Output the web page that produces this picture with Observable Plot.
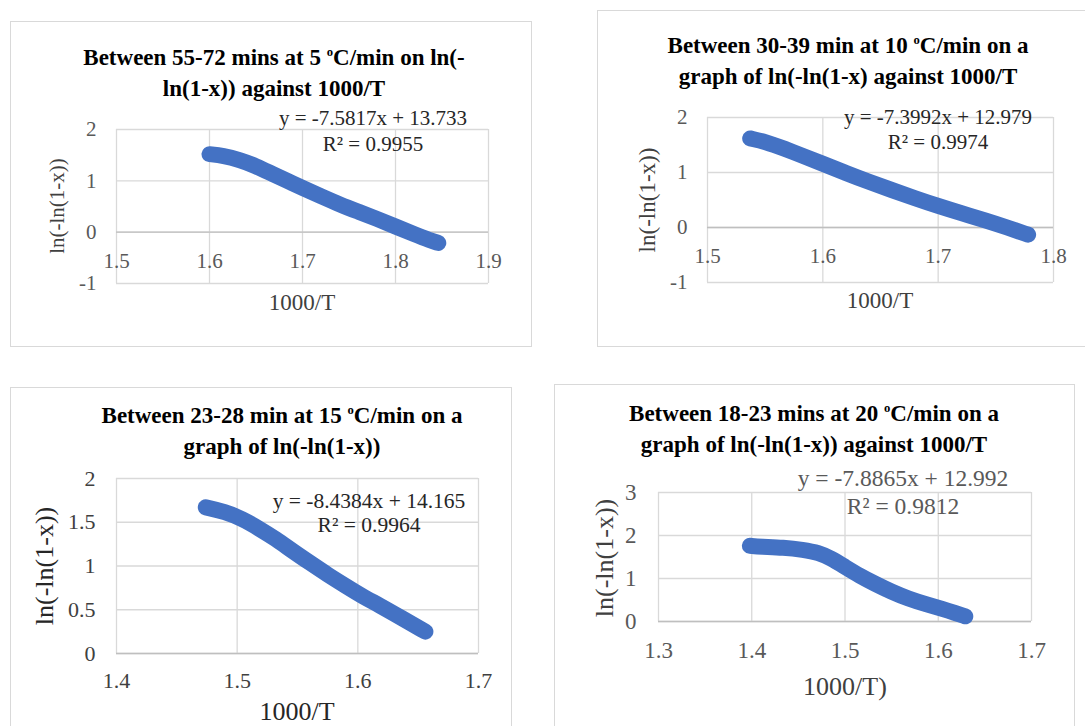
<!DOCTYPE html>
<html>
<head>
<meta charset="utf-8">
<script src="https://cdn.jsdelivr.net/npm/d3@7"></script>
<script src="https://cdn.jsdelivr.net/npm/@observablehq/plot@0.6"></script>
<style>
  body { margin: 0; background: #fff; overflow: hidden; }
  #page { position: relative; width: 1085px; height: 726px; overflow: hidden;
          font-family: "Liberation Serif", "Times New Roman", serif; background: #fff; }
  .box { position: absolute; border: 1px solid #d9d9d9; box-sizing: border-box; }
  .txt { position: absolute; white-space: nowrap; line-height: 1; transform: translate(-50%, -50%); }
  .ytitle { transform: translate(-50%, -50%) rotate(-90deg); }
  .title { position: absolute; white-space: nowrap; font-weight: bold; color: #000;
           text-align: center; line-height: 27px; transform: translateX(-50%); }
  .title sup { font-size: 0.55em; vertical-align: 0; position: relative; top: -0.7em; }
  .plot { position: absolute; }
</style>
</head>
<body>
<div id="page"></div>
<script>
// ---------- data: ln(-ln(1-x)) against 1000/T ----------

// 5 °C/min, 55-72 min
const p1X = [1.600, 1.615, 1.632, 1.650, 1.668, 1.685, 1.700, 1.720, 1.740, 1.760, 1.780, 1.800, 1.820, 1.837, 1.846];
const p1Y = [1.52, 1.49, 1.41, 1.29, 1.13, 0.99, 0.86, 0.70, 0.54, 0.40, 0.26, 0.11, -0.04, -0.16, -0.21];
const p1XTicks = [1.5, 1.6, 1.7, 1.8, 1.9];
const p1YTicks = [-1, 0, 1, 2];
const p1Title = "Between 55-72 mins at 5 <sup>o</sup>C/min on ln(-<br>ln(1-x)) against 1000/T";
const p1Fit = ["y = -7.5817x + 13.733", "R\u00b2 = 0.9955"];
const p1Labels = ["1000/T", "ln(-ln(1-x))"];

// 10 °C/min, 30-39 min
const p2X = [1.537, 1.550, 1.567, 1.583, 1.600, 1.620, 1.640, 1.660, 1.680, 1.700, 1.720, 1.741, 1.760, 1.778];
const p2Y = [1.62, 1.56, 1.43, 1.30, 1.16, 0.99, 0.83, 0.68, 0.53, 0.39, 0.26, 0.13, 0.00, -0.13];
const p2XTicks = [1.5, 1.6, 1.7, 1.8];
const p2YTicks = [-1, 0, 1, 2];
const p2Title = "Between 30-39 min at 10 <sup>o</sup>C/min on a<br>graph of ln(-ln(1-x) against 1000/T";
const p2Fit = ["y = -7.3992x + 12.979", "R\u00b2 = 0.9974"];
const p2Labels = ["1000/T", "ln(-ln(1-x))"];

// 15 °C/min, 23-28 min
const p3X = [1.474, 1.490, 1.504, 1.518, 1.532, 1.546, 1.561, 1.575, 1.589, 1.603, 1.618, 1.637, 1.656];
const p3Y = [1.67, 1.62, 1.54, 1.43, 1.31, 1.17, 1.03, 0.90, 0.78, 0.66, 0.55, 0.40, 0.25];
const p3XTicks = [1.4, 1.5, 1.6, 1.7];
const p3YTicks = [0, 0.5, 1, 1.5, 2];
const p3Title = "Between 23-28 min at 15 <sup>o</sup>C/min on a<br>graph of ln(-ln(1-x))";
const p3Fit = ["y = -8.4384x + 14.165", "R\u00b2 = 0.9964"];
const p3Labels = ["1000/T", "ln(-ln(1-x))"];

// 20 °C/min, 18-23 min
const p4X = [1.398, 1.410, 1.434, 1.455, 1.472, 1.485, 1.500, 1.516, 1.532, 1.550, 1.568, 1.587, 1.605, 1.618, 1.629];
const p4Y = [1.76, 1.74, 1.72, 1.67, 1.60, 1.47, 1.27, 1.06, 0.88, 0.69, 0.53, 0.40, 0.29, 0.20, 0.12];
const p4XTicks = [1.3, 1.4, 1.5, 1.6, 1.7];
const p4YTicks = [0, 1, 2, 3];
const p4Title = "Between 18-23 mins at 20 <sup>o</sup>C/min on a<br>graph of ln(-ln(1-x)) against 1000/T";
const p4Fit = ["y = -7.8865x + 12.992", "R\u00b2 = 0.9812"];
const p4Labels = ["1000/T)", "ln(-ln(1-x))"];

// ---------- layout of the four chart boxes (page pixels) ----------
// box: [left, top, right, bottom]; plot: [left, top, right, bottom] of the plotting frame
const layouts = [
  { box: [10, 21, 532, 347], plot: [116, 129, 488, 283], title: [274, 57], fit: [373, 118, 144],
    xTitle: [302, 302, 23], yTitle: [57, 206, 21], tick: 21, tickDy: 29, fitSize: 21,
    tickColor: "#595959", titleColor: "#404040", fitColor: "#262626" },
  { box: [597, 10, 1095, 347], plot: [707, 117, 1053, 282], title: [848, 45], fit: [938, 117, 142],
    xTitle: [880, 300, 23], yTitle: [647, 200, 23], tick: 21, tickDy: 29, fitSize: 21,
    tickColor: "#595959", titleColor: "#404040", fitColor: "#262626" },
  { box: [10, 387, 512, 760], plot: [116, 478, 478, 653], title: [282, 415], fit: [369, 502, 526],
    xTitle: [297, 712, 26], yTitle: [45, 566, 26], tick: 22, tickDy: 27, fitSize: 21.5,
    tickColor: "#404040", titleColor: "#262626", fitColor: "#262626" },
  { box: [554, 384, 1075, 760], plot: [658, 492, 1031, 621], title: [814, 413], fit: [903, 479, 507],
    xTitle: [845, 687, 26], yTitle: [605, 558, 26], tick: 23, tickDy: 29, fitSize: 23.5,
    tickColor: "#595959", titleColor: "#404040", fitColor: "#595959" }
];

const series = [
  { x: p1X, y: p1Y, xTicks: p1XTicks, yTicks: p1YTicks, title: p1Title, fit: p1Fit, labels: p1Labels },
  { x: p2X, y: p2Y, xTicks: p2XTicks, yTicks: p2YTicks, title: p2Title, fit: p2Fit, labels: p2Labels },
  { x: p3X, y: p3Y, xTicks: p3XTicks, yTicks: p3YTicks, title: p3Title, fit: p3Fit, labels: p3Labels },
  { x: p4X, y: p4Y, xTicks: p4XTicks, yTicks: p4YTicks, title: p4Title, fit: p4Fit, labels: p4Labels }
];

const page = document.getElementById("page");

function addText(html, cls, x, y, size, color) {
  const el = document.createElement("div");
  el.className = cls;
  el.innerHTML = html;
  Object.assign(el.style, { left: x + "px", top: y + "px", fontSize: size + "px", color });
  page.append(el);
  return el;
}

function drawChart(s, L) {
  const [bl, bt, br, bb] = L.box;
  const [pl, pt, pr, pb] = L.plot;
  const box = document.createElement("div");
  box.className = "box";
  Object.assign(box.style, { left: bl + "px", top: bt + "px", width: (br - bl) + "px", height: (bb - bt) + "px" });
  page.append(box);

  const points = s.x.map((x, i) => ({ x, y: s.y[i] }));

  const chart = Plot.plot({
    width: br - bl,
    height: bb - bt,
    marginLeft: pl - bl,
    marginRight: br - pr,
    marginTop: pt - bt,
    marginBottom: bb - pb,
    x: { domain: [s.xTicks[0], s.xTicks[s.xTicks.length - 1]], axis: null },
    y: { domain: [s.yTicks[0], s.yTicks[s.yTicks.length - 1]], axis: null },
    style: { background: "transparent", fontFamily: "'Liberation Serif', 'Times New Roman', serif", overflow: "visible" },
    marks: [
      Plot.ruleX(s.xTicks, { stroke: "#d9d9d9", strokeWidth: 1.3 }),
      Plot.ruleY(s.yTicks, { stroke: "#d9d9d9", strokeWidth: 1.3 }),
      Plot.ruleY([0], { stroke: "#bfbfbf", strokeWidth: 1.3 }),
      Plot.text(s.yTicks, { y: (d) => d, text: (d) => String(d), frameAnchor: "left", dx: -(L.tick - 1),
        textAnchor: "end", fontSize: L.tick, fill: L.tickColor }),
      Plot.text(s.xTicks, { x: (d) => d, y: 0, text: (d) => String(d), dy: L.tickDy,
        fontSize: L.tick, fill: L.tickColor }),
      // the densely packed markers read as one thick rounded band
      Plot.line(points, { x: "x", y: "y", stroke: "#4472c4", strokeWidth: 16,
        strokeLinecap: "round", strokeLinejoin: "round", curve: "basis" })
    ]
  });
  chart.classList.add("plot");
  Object.assign(chart.style, { left: bl + "px", top: bt + "px" });
  page.append(chart);

  // chart title (two centred bold lines)
  addText(s.title, "title", L.title[0], L.title[1] - 13.5, 23, "#000");

  // fitted trendline label
  addText(s.fit[0], "txt", L.fit[0], L.fit[1], L.fitSize, L.fitColor);
  addText(s.fit[1], "txt", L.fit[0], L.fit[2], L.fitSize, L.fitColor);

  // axis titles
  addText(s.labels[0], "txt", L.xTitle[0], L.xTitle[1], L.xTitle[2], L.titleColor);
  addText(s.labels[1], "txt ytitle", L.yTitle[0], L.yTitle[1], L.yTitle[2], L.titleColor);
}

series.forEach((s, i) => drawChart(s, layouts[i]));
</script>
</body>
</html>
